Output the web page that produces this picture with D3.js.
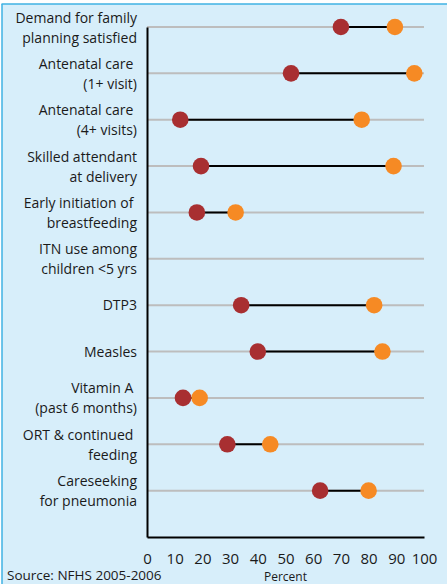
<!DOCTYPE html>
<html>
<head>
<meta charset="utf-8">
<script src="https://cdn.jsdelivr.net/npm/d3@7"></script>
<style>
  html, body { margin: 0; padding: 0; background: #fff; }
  svg { display: block; font-family: 'Open Sans', sans-serif; }
</style>
</head>
<body>
<div id="viz"></div>
<script>
'use strict';

const categories = [
  ['Demand for family', 'planning satisfied'],
  ['Antenatal care ', '(1+ visit)'],
  ['Antenatal care ', '(4+ visits)'],
  ['Skilled attendant', 'at delivery'],
  ['Early initiation of ', 'breastfeeding'],
  ['ITN use among', 'children <5 yrs'],
  ['DTP3'],
  ['Measles'],
  ['Vitamin A ', '(past 6 months)'],
  ['ORT & continued ', 'feeding'],
  ['Careseeking', 'for pneumonia']
];
const lowValues = [70, 52, 12, 19.5, 18, null, 34, 40, 13, 29, 62.5];
const highValues = [89.5, 96.5, 77.5, 89, 32, null, 82, 85, 19, 44.5, 80];
const xTicks = [0, 10, 20, 30, 40, 50, 60, 70, 80, 90, 100];

const W = 447, H = 584;

const svg = d3.select('#viz')
  .append('svg')
    .attr('width', W)
    .attr('height', H);

// panel background with blue top / left border
svg.append('rect')
  .attr('x', 2).attr('y', 4)
  .attr('width', W - 2).attr('height', H - 4)
  .attr('fill', '#d7eefa');

svg.append('line')
  .attr('x1', 1.5).attr('x2', W).attr('y1', 4).attr('y2', 4)
  .attr('stroke', '#3fb2e3').attr('stroke-width', 1.5);

svg.append('line')
  .attr('x1', 2).attr('x2', 2).attr('y1', 4).attr('y2', H)
  .attr('stroke', '#3fb2e3').attr('stroke-width', 1.5);

const x = d3.scaleLinear()
  .domain([0, 100])
  .range([147, 424]);

// rows sit on index 0..10, the x axis on index 11
const y = d3.scaleLinear()
  .domain([0, categories.length])
  .range([27, 537]);

const rows = categories.map((c, i) => ({
  label: c, i, low: lowValues[i], high: highValues[i]
}));

// gridlines
svg.append('g')
  .selectAll('line')
  .data(rows)
  .join('line')
    .attr('x1', x(0))
    .attr('x2', x(100))
    .attr('y1', d => y(d.i))
    .attr('y2', d => y(d.i))
    .attr('stroke', '#bdbdbd')
    .attr('stroke-width', 2);

// y axis
svg.append('g')
  .attr('transform', `translate(${x(0)},0)`)
  .call(d3.axisLeft(y).ticks(0).tickSizeOuter(0))
  .call(g => g.select('.domain').attr('stroke', '#000').attr('stroke-width', 2));

// x axis
svg.append('g')
  .attr('transform', `translate(0,${y(categories.length)})`)
  .call(d3.axisBottom(x).tickValues(xTicks).tickSize(0).tickPadding(16))
  .call(g => g.select('.domain').attr('stroke', '#000').attr('stroke-width', 2))
  .call(g => g.selectAll('text')
    .attr('font-size', 15)
    .attr('font-family', "'Open Sans', sans-serif")
    .attr('fill', '#1a1a1a'));

// category labels
const labels = svg.append('g')
  .selectAll('text')
  .data(rows)
  .join('text')
    .attr('text-anchor', 'end')
    .attr('font-size', 14)
    .attr('fill', '#1a1a1a')
    .style('white-space', 'pre');

labels.each(function (d) {
  const t = d3.select(this);
  const n = d.label.length;
  d.label.forEach((line, k) => {
    const base = n === 1 ? y(d.i) + 5 : y(d.i) - 4.5 + k * 20;
    t.append('tspan')
      .attr('x', 137)
      .attr('y', base)
      .text(line);
  });
});

const valued = rows.filter(d => d.low != null && d.high != null);

// connectors
svg.append('g')
  .selectAll('line')
  .data(valued)
  .join('line')
    .attr('x1', d => x(d.low))
    .attr('x2', d => x(d.high))
    .attr('y1', d => y(d.i))
    .attr('y2', d => y(d.i))
    .attr('stroke', '#000')
    .attr('stroke-width', 2);

svg.append('g')
  .selectAll('circle')
  .data(valued)
  .join('circle')
    .attr('cx', d => x(d.low))
    .attr('cy', d => y(d.i))
    .attr('r', 8.3)
    .attr('fill', '#a82f31');

svg.append('g')
  .selectAll('circle')
  .data(valued)
  .join('circle')
    .attr('cx', d => x(d.high))
    .attr('cy', d => y(d.i))
    .attr('r', 8.3)
    .attr('fill', '#f68a24');

svg.append('text')
  .attr('x', 285.5)
  .attr('y', 581)
  .attr('text-anchor', 'middle')
  .attr('font-size', 12)
  .attr('fill', '#1a1a1a')
  .text('Percent');

svg.append('text')
  .attr('x', 7)
  .attr('y', 580)
  .attr('font-size', 13.5)
  .attr('fill', '#1a1a1a')
  .text('Source: NFHS 2005-2006');
</script>
</body>
</html>
